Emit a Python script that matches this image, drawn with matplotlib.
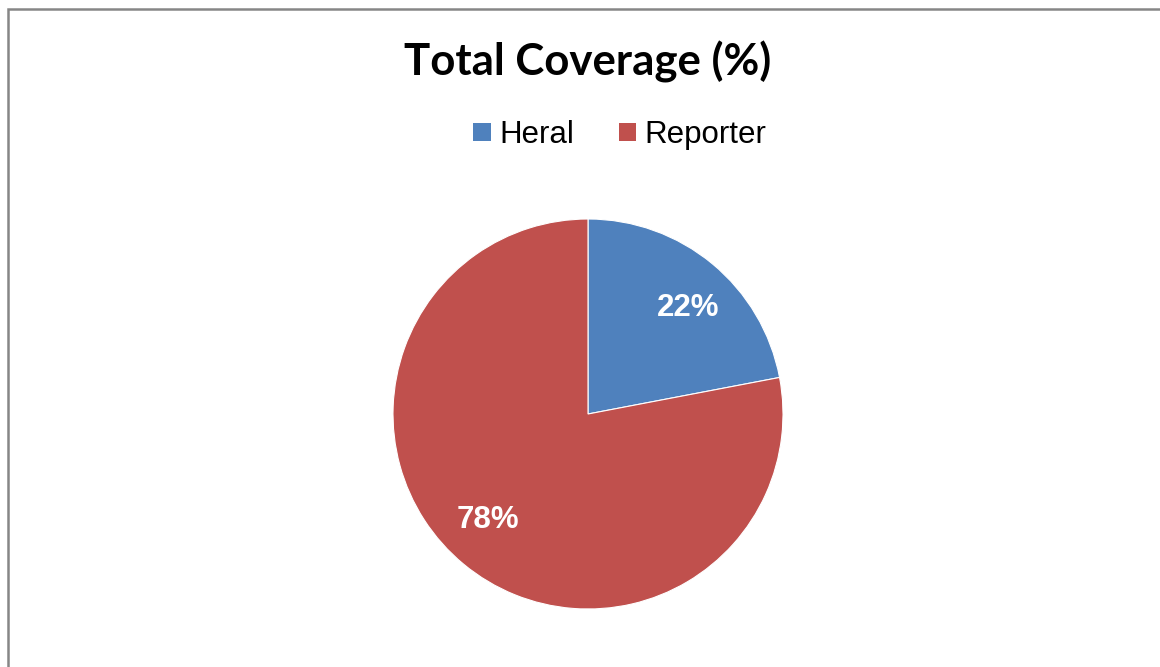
import numpy as np
import matplotlib.pyplot as plt
from matplotlib.patches import Patch, Rectangle

# datos del grafico
categorias = ["Heral", "Reporter"]
valores = [22, 78]
colores = ["#4F81BD", "#C0504D"]

fig = plt.figure(figsize=(11.6, 6.67), dpi=100)
fig.patch.set_facecolor("white")

# marco gris del area del grafico
fig.patches.append(Rectangle((8 / 1160, -0.05), 1.2, (667 - 9) / 667 + 0.05,
                             transform=fig.transFigure, fill=False,
                             edgecolor="#868686", linewidth=1.8))

# pastel
cx, cy, r = 588, 414, 195
ax = fig.add_axes([(cx - r) / 1160, (667 - cy - r) / 667, 2 * r / 1160, 2 * r / 667])
wedges, textos, pcts = ax.pie(valores, colors=colores, startangle=90, counterclock=False,
                              autopct="%1.0f%%", pctdistance=0.75, radius=1,
                              wedgeprops=dict(edgecolor="white", linewidth=0.8))
for w, t in zip(wedges, pcts):
    # etiqueta un poco girada en sentido horario, como en Excel
    ang = np.deg2rad((w.theta1 + w.theta2) / 2 - 3.7)
    t.set_position((0.75 * np.cos(ang), 0.75 * np.sin(ang)))
    t.set_color("white")
    t.set_fontsize(22.5)
    t.set_fontweight("bold")
    t.set_family("Liberation Sans")
ax.set_xlim(-1, 1)
ax.set_ylim(-1, 1)
ax.set_aspect("equal")
ax.axis("off")

fig.text(588 / 1160, (667 - 62) / 667, "Total Coverage (%)", ha="center", va="center",
         fontsize=31.5, fontweight="bold", family="Lato")

handles = [Patch(facecolor=c, edgecolor="none") for c in colores]
fig.legend(handles, categorias, loc="center", bbox_to_anchor=(620 / 1160, (667 - 135) / 667),
           ncol=2, frameon=False, prop={"family": "Liberation Sans", "size": 22.5},
           handlelength=0.55, handleheight=0.55, handletextpad=0.27, columnspacing=1.45,
           borderpad=0, borderaxespad=0)

fig.savefig("out.png", dpi=100)
